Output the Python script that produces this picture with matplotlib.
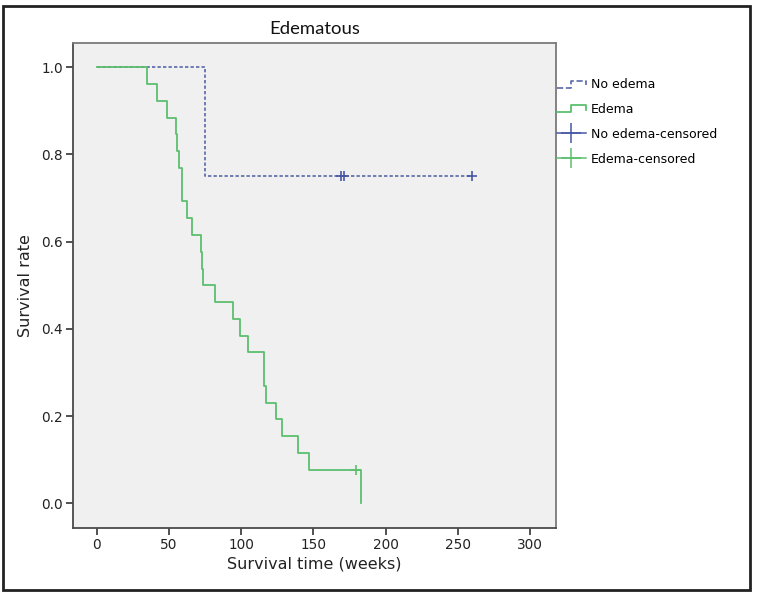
import numpy as np
import matplotlib
matplotlib.use("Agg")
import matplotlib.pyplot as plt
from matplotlib.lines import Line2D
from matplotlib.patches import Rectangle
from matplotlib.legend_handler import HandlerBase

# ---------------- data (weeks, 1 = death, 0 = censored) ----------------
edema_times = [35, 42, 48.5, 54.7, 55.6, 57, 59.3, 59.3, 62.7, 66, 72, 72.9, 73.6,
               81.7, 94.3, 99.4, 104.9, 115.5, 115.8, 117, 124, 128.5, 139.3, 146.7,
               179.5, 182.7]
edema_events = [1, 1, 1, 1, 1, 1, 1, 1, 1, 1, 1, 1, 1,
                1, 1, 1, 1, 1, 1, 1, 1, 1, 1, 1,
                0, 1]
noedema_times = [74.8, 168.9, 171.2, 259.6]
noedema_events = [1, 0, 0, 0]

title = "Edematous"
xlabel = "Survival time (weeks)"
ylabel = "Survival rate"
xticks = [0, 50, 100, 150, 200, 250, 300]
yticks = [0.0, 0.2, 0.4, 0.6, 0.8, 1.0]
legend_labels = ["No edema", "Edema", "No edema-censored", "Edema-censored"]

GREEN = "#5cbf6e"
BLUE = "#5868a8"
BLUE_C = "#4757a5"


def kaplan_meier(times, events):
    t = np.asarray(times, float)
    e = np.asarray(events, int)
    order = np.argsort(t, kind="stable")
    t, e = t[order], e[order]
    at_risk = len(t)
    s = 1.0
    xs, ys = [0.0], [1.0]
    cens_x, cens_y = [], []
    for ut in np.unique(t):
        m = t == ut
        d = int(e[m].sum())
        c = int(m.sum() - d)
        if d > 0:
            s *= (1 - d / at_risk)
            xs.append(ut)
            ys.append(s)
        if c > 0:
            cens_x += [ut] * c
            cens_y += [s] * c
        at_risk -= d + c
    if xs[-1] < t.max():
        xs.append(t.max())
        ys.append(s)
    return xs, ys, cens_x, cens_y


class StepHandler(HandlerBase):
    def create_artists(self, legend, orig_handle, xdescent, ydescent,
                       width, height, fontsize, trans):
        x0, y0 = -xdescent, -ydescent
        lo, hi = y0 + 0.05 * height, y0 + 0.85 * height
        xm = x0 + 0.48 * width
        xs = [x0, xm, xm, x0 + width, x0 + width]
        ys = [lo, lo, hi, hi, lo + 0.25 * height]
        ln = Line2D(xs, ys, color=orig_handle.get_color(),
                    linestyle=orig_handle.get_linestyle(),
                    linewidth=orig_handle.get_linewidth())
        ln.set_transform(trans)
        return [ln]


fig = plt.figure(figsize=(7.58, 5.95), dpi=100)
ax = fig.add_axes([72.7 / 758, 1 - 528.3 / 595, (555.7 - 72.7) / 758, (528.3 - 43.3) / 595])
ax.set_facecolor("#f0f0f0")

nx, ny, ncx, ncy = kaplan_meier(noedema_times, noedema_events)
ex, ey, ecx, ecy = kaplan_meier(edema_times, edema_events)

ax.step(nx, ny, where="post", color=BLUE, lw=1.2, linestyle=(0, (2, 1.3)))
ax.step(ex, ey, where="post", color=GREEN, lw=1.3)
ax.plot(ncx, ncy, linestyle="none", marker="+", color=BLUE_C, ms=7, mew=1.2)
ax.plot(ecx, ecy, linestyle="none", marker="+", color=GREEN, ms=7, mew=1.2)

ax.set_xlim(-16.6, 317.7)
ax.set_ylim(-0.0573, 1.055)
ax.set_xticks(xticks)
ax.set_yticks(yticks)
ax.set_xticklabels([str(v) for v in xticks])
ax.set_yticklabels([f"{v:.1f}" for v in yticks])
for sp in ["left", "bottom", "top", "right"]:
    ax.spines[sp].set_color("#4a4a4a")
    ax.spines[sp].set_linewidth(1.3)
ax.spines["top"].set_color("#7a7a7a")
ax.spines["right"].set_color("#7a7a7a")
ax.tick_params(axis="both", direction="out", length=5, width=1.2, color="#333333",
               labelsize=9.8, labelcolor="#222222", pad=2)
ax.tick_params(top=False, right=False)

ax.set_xlabel(xlabel, fontsize=11.5, color="#222222", labelpad=3)
ax.set_ylabel(ylabel, fontsize=11.5, color="#222222", labelpad=6)
fig.text(314.5 / 758, 1 - 29 / 595, title, ha="center", va="center",
         fontsize=13.3, family=["Lato", "DejaVu Sans"], color="#111111")

h_no = Line2D([], [], color=BLUE, lw=1.2, linestyle=(0, (2, 1.3)))
h_ed = Line2D([], [], color=GREEN, lw=1.3)
h_nc = Line2D([0, 1], [0, 0], color=BLUE_C, lw=1.1, marker="+", ms=14, mew=1.1)
h_ec = Line2D([0, 1], [0, 0], color=GREEN, lw=1.1, marker="+", ms=14, mew=1.1)
fig.legend([h_no, h_ed, h_nc, h_ec], legend_labels,
           loc="upper left", bbox_to_anchor=(552 / 758, 1 - 73 / 595),
           frameon=False, fontsize=9, handlelength=2.3, handletextpad=0.4,
           labelspacing=0.95, borderaxespad=0, numpoints=1,
           handler_map={h_no: StepHandler(), h_ed: StepHandler()})

fig.patches.append(Rectangle((2.5 / 758, 1 - 590 / 595), (750 - 2.5) / 758, (590 - 6) / 595,
                             transform=fig.transFigure, fill=False,
                             edgecolor="#222222", linewidth=2))

fig.savefig("out.png", dpi=100, facecolor="white")
